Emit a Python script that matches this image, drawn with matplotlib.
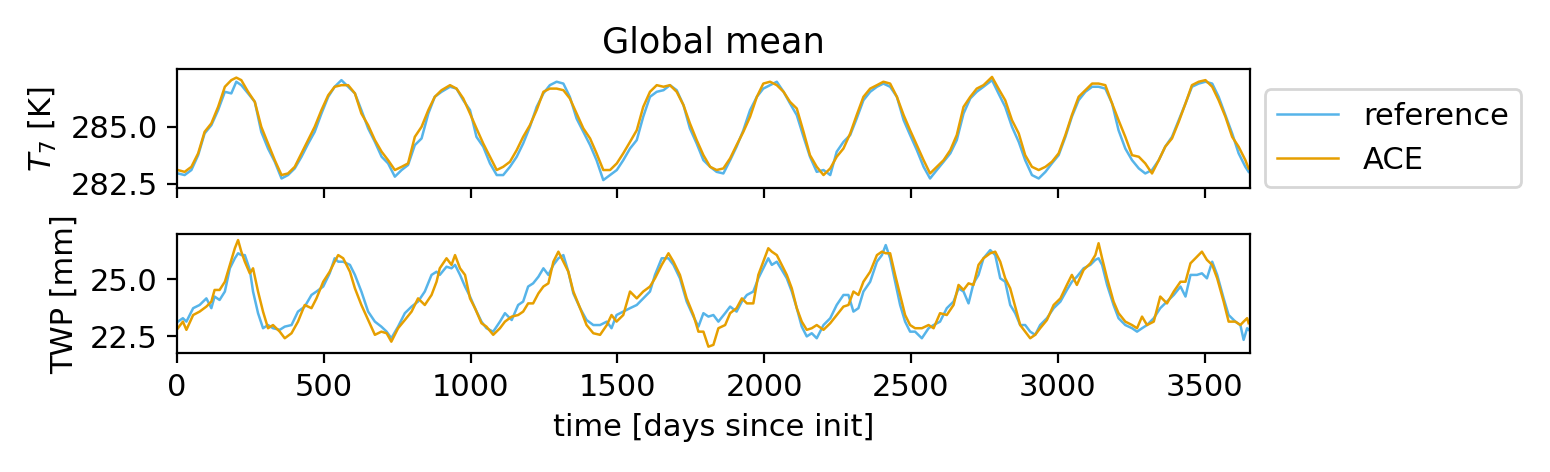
import matplotlib
matplotlib.use("Agg")
import matplotlib.pyplot as plt
import numpy as np

# valores (dias desde init)
t7_days = [3, 26, 49, 72, 94, 117, 140, 163, 185, 202, 219, 242, 265, 287, 310, 333, 356, 378, 401, 424,
           447, 469, 492, 515, 537, 560, 583, 606, 628, 651, 674, 697, 719, 742, 765, 787, 810, 833, 856, 878,
           901, 930, 952, 975, 998, 1020, 1043, 1066, 1089, 1111, 1134, 1157, 1179, 1202, 1225, 1248, 1270, 1293, 1316, 1338,
           1361, 1384, 1407, 1429, 1452, 1475, 1498, 1520, 1543, 1566, 1588, 1611, 1634, 1657, 1679, 1702, 1725, 1747, 1770, 1793,
           1816, 1838, 1861, 1884, 1906, 1929, 1952, 1975, 1997, 2020, 2043, 2066, 2088, 2111, 2134, 2156, 2179, 2202, 2225, 2247,
           2270, 2293, 2315, 2338, 2361, 2384, 2406, 2429, 2452, 2475, 2497, 2520, 2543, 2565, 2588, 2611, 2634, 2656, 2679, 2702,
           2724, 2747, 2776, 2798, 2821, 2844, 2867, 2889, 2912, 2935, 2958, 2980, 3003, 3026, 3048, 3071, 3094, 3117, 3139, 3162,
           3185, 3207, 3230, 3253, 3276, 3298, 3321, 3344, 3366, 3389, 3412, 3435, 3457, 3480, 3503, 3526, 3548, 3571, 3594, 3616,
           3639, 3650]
t7_ref = [282.96, 282.89, 283.11, 283.76, 284.71, 285.07, 285.73, 286.53, 286.46, 286.97, 286.82, 286.46, 286.09, 284.78, 284.05, 283.47, 282.74, 282.89, 283.18, 283.69,
          284.27, 284.78, 285.58, 286.31, 286.75, 287.04, 286.75, 286.46, 285.73, 284.93, 284.34, 283.69, 283.40, 282.82, 283.11, 283.33, 284.20, 284.49, 285.58, 286.31,
          286.53, 286.75, 286.67, 286.16, 285.73, 284.56, 284.13, 283.40, 282.89, 282.89, 283.25, 283.69, 284.27, 285.00, 285.87, 286.46, 286.82, 286.97, 286.89, 286.31,
          285.36, 284.78, 284.20, 283.54, 282.67, 282.89, 283.11, 283.54, 284.05, 284.42, 285.44, 286.31, 286.53, 286.60, 286.82, 286.60, 285.95, 284.93, 284.27, 283.54,
          283.25, 283.03, 282.96, 283.54, 284.13, 284.85, 285.73, 286.31, 286.67, 286.82, 286.97, 286.53, 286.02, 285.51, 284.56, 283.69, 283.03, 283.11, 282.89, 283.91,
          284.34, 284.64, 285.36, 286.16, 286.53, 286.75, 286.89, 286.75, 286.31, 285.29, 284.64, 283.98, 283.25, 282.74, 283.11, 283.47, 283.84, 284.42, 285.58, 286.24,
          286.53, 286.75, 287.04, 286.46, 285.87, 285.00, 284.34, 283.54, 282.89, 282.74, 283.03, 283.40, 283.76, 284.56, 285.44, 286.16, 286.53, 286.75, 286.75, 286.67,
          286.02, 284.85, 284.05, 283.54, 283.18, 282.96, 283.11, 283.54, 284.13, 284.56, 285.29, 286.02, 286.75, 286.89, 286.97, 286.89, 286.31, 285.51, 284.71, 283.84,
          283.25, 283.03]
t7_ace = [283.11, 283.03, 283.25, 283.84, 284.78, 285.15, 285.87, 286.75, 287.04, 287.15, 287.04, 286.53, 286.09, 285.00, 284.27, 283.54, 282.89, 282.96, 283.25, 283.84,
          284.42, 285.00, 285.73, 286.38, 286.75, 286.82, 286.82, 286.46, 285.58, 285.07, 284.42, 283.91, 283.54, 283.11, 283.25, 283.40, 284.56, 285.00, 285.73, 286.31,
          286.60, 286.82, 286.67, 286.24, 285.58, 284.93, 284.27, 283.69, 283.11, 283.25, 283.47, 283.98, 284.56, 285.07, 285.73, 286.53, 286.67, 286.67, 286.60, 286.24,
          285.58, 284.93, 284.49, 283.84, 283.11, 283.11, 283.40, 283.84, 284.34, 284.85, 285.87, 286.53, 286.82, 286.75, 286.82, 286.53, 285.95, 285.15, 284.42, 283.76,
          283.25, 283.11, 283.18, 283.62, 284.20, 284.78, 285.44, 286.31, 286.89, 286.97, 286.82, 286.53, 286.09, 285.80, 284.78, 283.76, 283.25, 282.89, 283.18, 283.69,
          284.05, 284.71, 285.51, 286.31, 286.67, 286.82, 286.97, 286.89, 286.31, 285.51, 284.85, 284.20, 283.54, 282.96, 283.25, 283.54, 283.98, 284.64, 285.87, 286.31,
          286.67, 286.82, 287.18, 286.67, 286.16, 285.29, 284.71, 283.76, 283.25, 283.11, 283.25, 283.47, 283.84, 284.64, 285.51, 286.31, 286.60, 286.89, 286.89, 286.82,
          286.02, 285.29, 284.56, 283.76, 283.69, 283.40, 282.96, 283.54, 284.13, 284.49, 285.22, 286.02, 286.82, 286.97, 287.04, 286.75, 286.16, 285.44, 284.56, 284.13,
          283.54, 283.18]

twp_days = [3, 20, 32, 55, 77, 100, 117, 128, 145, 163, 180, 197, 208, 219, 231, 248, 259, 276, 293, 310,
            327, 350, 367, 390, 412, 435, 458, 475, 498, 520, 537, 549, 566, 589, 606, 628, 651, 674, 696, 714,
            730, 753, 776, 799, 821, 844, 867, 884, 895, 918, 935, 947, 964, 981, 998, 1015, 1037, 1054, 1077, 1100,
            1117, 1140, 1162, 1179, 1196, 1213, 1231, 1248, 1265, 1282, 1299, 1316, 1333, 1350, 1373, 1395, 1418, 1441, 1464, 1480,
            1497, 1520, 1543, 1566, 1588, 1611, 1628, 1651, 1674, 1691, 1713, 1736, 1759, 1776, 1793, 1810, 1827, 1844, 1867, 1884,
            1906, 1924, 1941, 1963, 1980, 1997, 2014, 2026, 2043, 2060, 2077, 2094, 2111, 2128, 2145, 2162, 2179, 2202, 2225, 2247,
            2270, 2287, 2304, 2321, 2338, 2361, 2384, 2401, 2414, 2429, 2446, 2463, 2480, 2497, 2514, 2537, 2560, 2577, 2599, 2622,
            2645, 2662, 2679, 2696, 2713, 2730, 2747, 2770, 2787, 2804, 2821, 2838, 2855, 2872, 2889, 2906, 2923, 2940, 2963, 2986,
            3009, 3031, 3048, 3065, 3088, 3111, 3128, 3139, 3151, 3168, 3190, 3207, 3230, 3253, 3270, 3287, 3304, 3327, 3349, 3372,
            3395, 3418, 3435, 3452, 3474, 3491, 3508, 3526, 3543, 3565, 3582, 3605, 3622, 3633, 3645, 3650]
twp_ref = [23.15, 23.30, 23.15, 23.74, 23.88, 24.17, 23.74, 24.25, 24.10, 24.47, 25.49, 25.93, 26.15, 26.07, 26.07, 25.42, 24.47, 23.52, 22.86, 23.00,
           22.86, 22.79, 22.93, 23.00, 23.59, 23.81, 24.32, 24.47, 24.69, 25.27, 25.93, 25.78, 25.78, 25.64, 25.20, 24.47, 23.59, 23.15, 22.93, 22.71,
           22.42, 22.93, 23.52, 23.81, 24.03, 24.47, 25.20, 25.34, 25.20, 25.56, 25.49, 25.64, 25.20, 24.69, 24.25, 23.74, 23.15, 22.86, 22.71, 23.15,
           23.52, 23.22, 23.88, 24.03, 24.69, 24.83, 25.12, 25.49, 25.20, 25.64, 25.93, 26.07, 25.34, 24.39, 23.74, 23.22, 23.00, 23.00, 23.15, 22.86,
           23.44, 23.59, 23.74, 23.88, 24.17, 24.47, 25.20, 25.93, 25.93, 25.64, 25.05, 24.03, 23.37, 22.93, 23.52, 23.37, 23.44, 23.15, 23.52, 23.81,
           23.59, 24.03, 24.32, 24.47, 25.05, 25.49, 25.93, 25.64, 25.78, 25.42, 25.05, 24.47, 23.74, 22.93, 22.50, 22.64, 22.42, 23.00, 23.30, 23.88,
           24.32, 24.32, 23.59, 23.74, 24.47, 24.90, 25.78, 26.07, 26.51, 25.93, 24.90, 23.88, 23.15, 22.71, 22.71, 22.42, 22.86, 23.00, 23.15, 23.74,
           24.03, 24.61, 24.47, 23.95, 24.83, 25.20, 25.93, 26.29, 26.07, 25.05, 24.90, 23.88, 23.52, 23.00, 23.00, 22.71, 22.57, 23.00, 23.30, 23.74,
           24.03, 24.54, 24.90, 25.12, 25.49, 25.64, 25.86, 25.93, 25.64, 24.76, 23.88, 23.30, 23.00, 22.86, 22.71, 22.86, 23.00, 23.30, 23.74, 24.03,
           24.32, 24.69, 24.25, 25.20, 25.20, 25.27, 25.05, 25.78, 25.20, 24.17, 23.44, 23.15, 23.00, 22.35, 22.86, 22.79]
twp_ace = [22.86, 23.15, 22.79, 23.44, 23.59, 23.81, 24.03, 24.54, 24.54, 24.90, 25.64, 26.37, 26.73, 26.22, 25.78, 25.27, 25.49, 24.47, 23.59, 22.86,
           23.00, 22.71, 22.42, 22.64, 23.15, 23.88, 23.74, 24.17, 24.90, 25.34, 25.78, 26.07, 25.93, 25.34, 24.61, 23.88, 23.22, 22.57, 22.71, 22.64,
           22.27, 22.86, 23.22, 23.59, 24.17, 23.88, 24.32, 24.90, 25.49, 25.93, 25.64, 26.07, 25.49, 25.20, 24.17, 23.74, 23.08, 22.93, 22.57, 22.86,
           23.15, 23.37, 23.44, 23.59, 23.95, 23.95, 24.39, 24.69, 24.83, 25.78, 26.22, 25.78, 25.34, 24.47, 23.74, 23.00, 22.64, 22.57, 23.00, 23.44,
           23.15, 23.44, 24.47, 24.17, 24.47, 24.69, 25.05, 25.64, 26.15, 25.78, 25.20, 24.17, 23.44, 22.71, 22.71, 22.05, 22.13, 22.86, 23.00, 23.52,
           23.74, 24.17, 23.95, 23.95, 25.20, 25.78, 26.37, 26.22, 26.07, 25.64, 25.20, 24.61, 23.74, 23.15, 22.79, 22.86, 23.00, 22.79, 23.08, 23.44,
           23.81, 23.88, 24.47, 24.32, 24.90, 25.34, 26.07, 26.22, 26.15, 26.15, 25.20, 24.32, 23.44, 23.00, 22.86, 22.86, 23.00, 22.86, 23.52, 23.44,
           23.88, 24.76, 24.54, 24.83, 24.76, 25.64, 25.93, 26.15, 26.22, 25.78, 25.05, 24.61, 23.81, 23.00, 22.71, 22.42, 22.57, 22.86, 23.22, 23.88,
           24.17, 24.76, 25.20, 24.76, 25.42, 25.71, 26.07, 26.59, 25.93, 25.05, 24.03, 23.52, 23.15, 23.00, 22.86, 23.37, 23.00, 23.15, 24.25, 23.95,
           24.47, 24.90, 24.90, 25.71, 26.00, 26.22, 25.86, 25.64, 25.05, 24.03, 23.15, 23.15, 23.00, 23.15, 23.30, 23.08]

color_ref = '#56B4E9'
color_ace = '#E69F00'

plt.rcParams['font.size'] = 11

fig, (ax1, ax2) = plt.subplots(2, 1, figsize=(7.75, 2.36), dpi=200, sharex=True)
fig.subplots_adjust(left=0.1142, right=0.8065, bottom=0.2515, top=0.853, hspace=0.387)

ax1.plot(t7_days, t7_ref, color=color_ref, lw=0.9, label='reference')
ax1.plot(t7_days, t7_ace, color=color_ace, lw=0.9, label='ACE')
ax1.set_ylabel('$T_7$ [K]')
ax1.set_title('Global mean', fontsize=12.65)
ax1.set_ylim(282.31, 287.51)
ax1.set_yticks([282.5, 285.0])
ax1.legend(loc='lower left', bbox_to_anchor=(1.014, 0.01), borderaxespad=0)

ax2.plot(twp_days, twp_ref, color=color_ref, lw=0.9)
ax2.plot(twp_days, twp_ace, color=color_ace, lw=0.9)
ax2.set_ylabel('TWP [mm]')
ax2.set_ylim(21.76, 26.98)
ax2.set_yticks([22.5, 25.0])
ax2.set_xlim(0, 3655)
ax2.set_xlabel('time [days since init]')

fig.savefig('out.png', dpi=200)
